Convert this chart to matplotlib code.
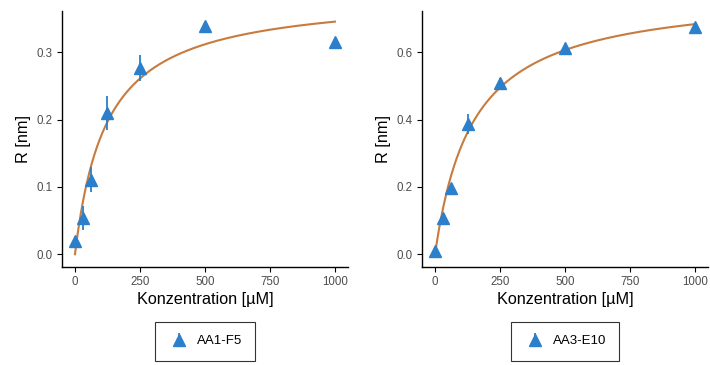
import numpy as np
from matplotlib import pyplot as plt

plt.rcParams['font.family'] = ['Liberation Sans', 'DejaVu Sans']

conc = [0, 31.25, 62.5, 125, 250, 500, 1000]

# AA1-F5
r_aa1 = [0.020, 0.0535, 0.111, 0.2095, 0.277, 0.339, 0.316]
err_aa1 = [0.004, 0.018, 0.018, 0.025, 0.019, 0.004, 0.003]
rmax_aa1 = 0.3875
kd_aa1 = 121

# AA3-E10
r_aa3 = [0.011, 0.107, 0.196, 0.387, 0.508, 0.614, 0.675]
err_aa3 = [0.008, 0.010, 0.012, 0.030, 0.015, 0.010, 0.006]
rmax_aa3 = 0.7835
kd_aa3 = 145.5

labels = ["AA1-F5", "AA3-E10"]
xticks = [0, 250, 500, 750, 1000]

blue = "#2B7FCB"
orange = "#C87B3E"

fig = plt.figure(figsize=(7.1, 3.65), dpi=100)
ax1 = fig.add_axes([0.0873, 0.2685, 0.4028, 0.7014])
ax2 = fig.add_axes([0.5944, 0.2685, 0.4028, 0.7014])

panels = [
    (ax1, r_aa1, err_aa1, rmax_aa1, kd_aa1, labels[0], (-0.019, 0.3615), [0.0, 0.1, 0.2, 0.3]),
    (ax2, r_aa3, err_aa3, rmax_aa3, kd_aa3, labels[1], (-0.0378, 0.723), [0.0, 0.2, 0.4, 0.6]),
]

xs = np.linspace(0, 1000, 400)
for ax, r, err, rmax, kd, lab, ylim, yticks in panels:
    # fitted binding curve (one-site model)
    ax.plot(xs, rmax * xs / (kd + xs), color=orange, lw=1.5, zorder=2)
    ax.errorbar(conc, r, yerr=err, fmt='^', color=blue, ms=9, elinewidth=1.3,
                capsize=0, label=lab, zorder=3)
    ax.set_xlim(-50, 1050)
    ax.set_ylim(*ylim)
    ax.set_xticks(xticks)
    ax.set_yticks(yticks)
    ax.set_yticklabels([f"{t:.1f}" for t in yticks])
    for s in ['top', 'right']:
        ax.spines[s].set_visible(False)
    for s in ['left', 'bottom']:
        ax.spines[s].set_linewidth(1.0)
    ax.tick_params(direction='out', length=3.5, width=0.8, labelsize=8.3,
                   labelcolor='#4D4D4D', pad=3)
    ax.set_xlabel("Konzentration [µM]", fontsize=11.7, labelpad=3)
    ax.set_ylabel("R [nm]", fontsize=11.7, labelpad=4)
    leg = ax.legend(loc='upper center', bbox_to_anchor=(0.5, -0.215), frameon=True,
                    fancybox=False, edgecolor='black', fontsize=9.5, handlelength=1.7,
                    handletextpad=0.5, borderpad=1.0, borderaxespad=0)
    leg.get_frame().set_linewidth(0.8)

fig.savefig("out.png", dpi=100)
